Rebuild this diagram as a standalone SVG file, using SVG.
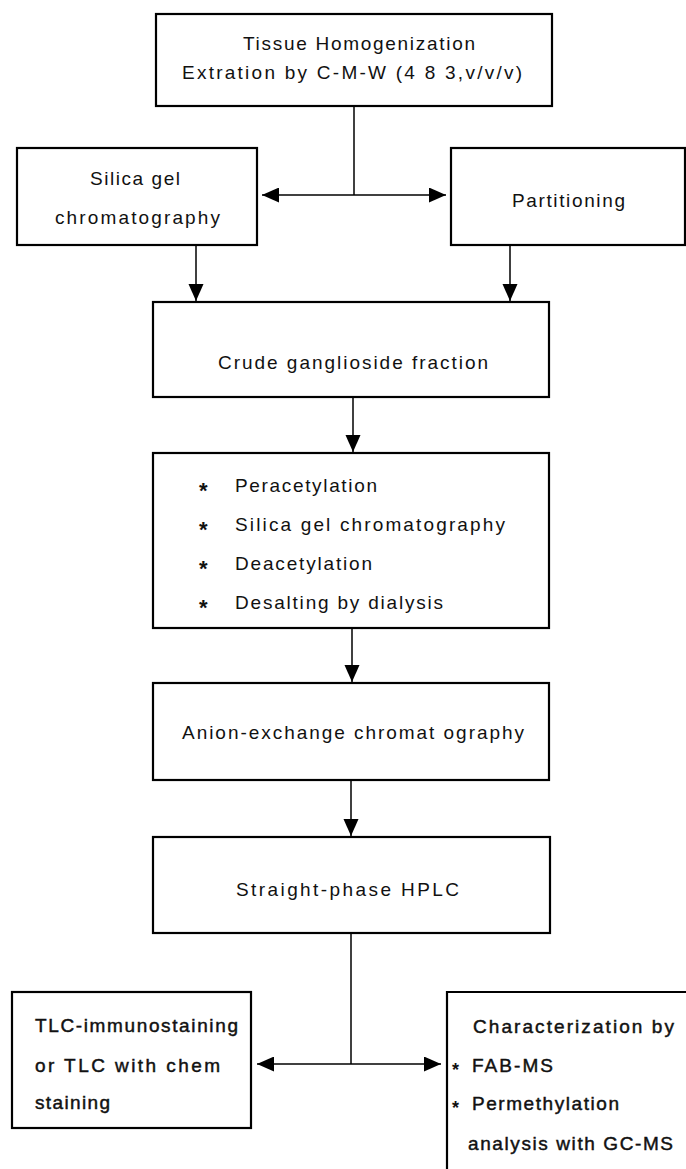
<svg xmlns="http://www.w3.org/2000/svg" width="686" height="1169" viewBox="0 0 686 1169">
<defs>
<style>
.box{fill:#fff;stroke:#000;stroke-width:2.2}
.ln{fill:none;stroke:#000;stroke-width:1.5}
.t{font-family:"Liberation Sans",Arial,sans-serif;font-size:19px;fill:#111}
.b{stroke:#111;stroke-width:0.45}
.bul{font-family:"Liberation Sans",Arial,sans-serif;font-size:22px;font-weight:bold;fill:#111}
.bul2{font-family:"Liberation Sans",Arial,sans-serif;font-size:18px;font-weight:bold;fill:#111}
</style>
<marker id="ah" markerUnits="userSpaceOnUse" markerWidth="18" markerHeight="16" refX="17" refY="7.5" orient="auto">
<path d="M0,0 L17,7.5 L0,15 z" fill="#000"/>
</marker>
<marker id="ahs" markerUnits="userSpaceOnUse" markerWidth="18" markerHeight="16" refX="0" refY="7.5" orient="auto">
<path d="M17,0 L0,7.5 L17,15 z" fill="#000"/>
</marker>
</defs>
<rect width="686" height="1169" fill="#fff"/>

<g id="connectors">
<path class="ln" d="M354,106 V195"/>
<path class="ln" d="M262,195 H446" marker-start="url(#ahs)" marker-end="url(#ah)"/>
<path class="ln" d="M196,245 V301" marker-end="url(#ah)"/>
<path class="ln" d="M510,245 V301" marker-end="url(#ah)"/>
<path class="ln" d="M353,397 V452" marker-end="url(#ah)"/>
<path class="ln" d="M352,628 V682" marker-end="url(#ah)"/>
<path class="ln" d="M351,780 V836" marker-end="url(#ah)"/>
<path class="ln" d="M351,933 V1064"/>
<path class="ln" d="M257,1064 H441" marker-start="url(#ahs)" marker-end="url(#ah)"/>
</g>

<g id="n-homogenization">
<rect class="box" x="156" y="14" width="396" height="92"/>
<text class="t" x="243" y="50" textLength="232" lengthAdjust="spacing">Tissue Homogenization</text>
<text class="t" x="182" y="79" textLength="340" lengthAdjust="spacing">Extration by C-M-W (4 8 3,v/v/v)</text>
</g>

<g id="n-silica">
<rect class="box" x="17" y="148" width="240" height="97"/>
<text class="t" x="90" y="185" textLength="90" lengthAdjust="spacing">Silica gel</text>
<text class="t" x="55" y="224" textLength="165" lengthAdjust="spacing">chromatography</text>
</g>

<g id="n-partitioning">
<rect class="box" x="451" y="148" width="234" height="97"/>
<text class="t" x="512" y="207" textLength="113" lengthAdjust="spacing">Partitioning</text>
</g>

<g id="n-crude">
<rect class="box" x="153" y="302" width="396" height="95"/>
<text class="t" x="218" y="369" textLength="270" lengthAdjust="spacing">Crude ganglioside fraction</text>
</g>

<g id="n-steps">
<rect class="box" x="153" y="453" width="396" height="175"/>
<text class="bul" x="199" y="498">*</text>
<text class="t" x="235" y="492" textLength="142" lengthAdjust="spacing">Peracetylation</text>
<text class="bul" x="199" y="537">*</text>
<text class="t" x="235" y="531" textLength="270" lengthAdjust="spacing">Silica gel chromatography</text>
<text class="bul" x="199" y="576">*</text>
<text class="t" x="235" y="570" textLength="137" lengthAdjust="spacing">Deacetylation</text>
<text class="bul" x="199" y="615">*</text>
<text class="t" x="235" y="609" textLength="208" lengthAdjust="spacing">Desalting by dialysis</text>
</g>

<g id="n-anion">
<rect class="box" x="153" y="683" width="396" height="97"/>
<text class="t" x="182" y="739" textLength="342" lengthAdjust="spacing">Anion-exchange chromat ography</text>
</g>

<g id="n-hplc">
<rect class="box" x="153" y="837" width="397" height="96"/>
<text class="t" x="236" y="896" textLength="223" lengthAdjust="spacing">Straight-phase  HPLC</text>
</g>

<g id="n-tlc">
<rect class="box" x="12" y="992" width="239" height="136"/>
<text class="t b" x="35" y="1032" textLength="203" lengthAdjust="spacing">TLC-immunostaining</text>
<text class="t b" x="35" y="1072" textLength="185" lengthAdjust="spacing">or TLC with chem</text>
<text class="t b" x="35" y="1109" textLength="75" lengthAdjust="spacing">staining</text>
</g>

<g id="n-characterization">
<path class="box" d="M690,992 H447 V1175" fill="none"/>
<text class="t b" x="473" y="1033" textLength="201" lengthAdjust="spacing">Characterization by</text>
<text class="bul2" x="452" y="1076">*</text>
<text class="t b" x="472" y="1072" textLength="81" lengthAdjust="spacing">FAB-MS</text>
<text class="bul2" x="452" y="1114">*</text>
<text class="t b" x="472" y="1110" textLength="147" lengthAdjust="spacing">Permethylation</text>
<text class="t b" x="468" y="1150" textLength="205" lengthAdjust="spacing">analysis with GC-MS</text>
</g>
</svg>
